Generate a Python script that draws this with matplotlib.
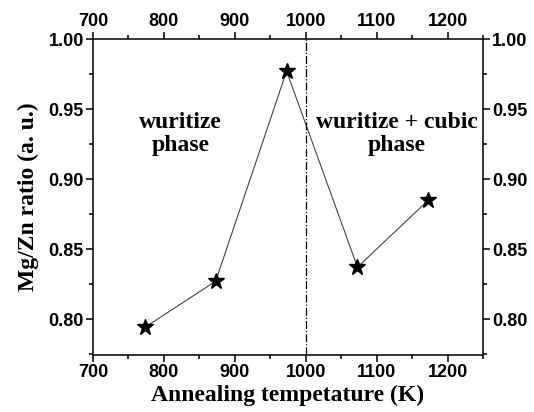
import matplotlib
matplotlib.use('Agg')
import matplotlib.pyplot as plt
from matplotlib.ticker import MultipleLocator

temps = [773, 873, 973, 1073, 1173]
ratio = [0.794, 0.827, 0.977, 0.837, 0.885]
x_ticks = [700, 800, 900, 1000, 1100, 1200]
y_ticks = [0.80, 0.85, 0.90, 0.95, 1.00]

tick_font = {'family': 'Liberation Sans', 'weight': 'bold', 'size': 13}
serif = 'Liberation Serif'

fig = plt.figure(figsize=(5.34, 4.12), dpi=100)
ax = fig.add_axes([93 / 534, 1 - 355 / 412, 390 / 534, 316 / 412])

ax.plot(temps, ratio, color='#444444', linewidth=0.8, marker='*',
        markersize=12, markerfacecolor='black', markeredgecolor='black')
ax.axvline(1000, color='black', linestyle='-.', linewidth=0.9)

ax.set_xlim(700, 1250)
ax.set_ylim(0.7743, 1.0)
ax.set_xticks(x_ticks)
ax.set_yticks(y_ticks)
ax.xaxis.set_minor_locator(MultipleLocator(50))
ax.yaxis.set_minor_locator(MultipleLocator(0.025))
ax.tick_params(which='both', direction='out', top=True, right=True,
               labeltop=True, labelright=True, width=1.1)
ax.tick_params(which='major', length=5, pad=1.5)
ax.tick_params(which='minor', length=3)
ax.set_yticklabels(['%.2f' % v for v in y_ticks], **tick_font)
ax.set_xticklabels([str(v) for v in x_ticks], **tick_font)
for s in ax.spines.values():
    s.set_linewidth(1.1)

ax.set_xlabel('Annealing tempetature (K)', family=serif, weight='bold',
              size=17, labelpad=3)
ax.set_ylabel('Mg/Zn ratio (a. u.)', family=serif, weight='bold',
              size=17, labelpad=7)

ax.text(823, 0.932, 'wuritize\nphase', family=serif, weight='bold',
        size=17, ha='center', va='center', linespacing=1.1)
ax.text(1128, 0.932, 'wuritize + cubic\nphase', family=serif,
        weight='bold', size=17, ha='center', va='center', linespacing=1.1)

fig.savefig('out.png', dpi=100)
